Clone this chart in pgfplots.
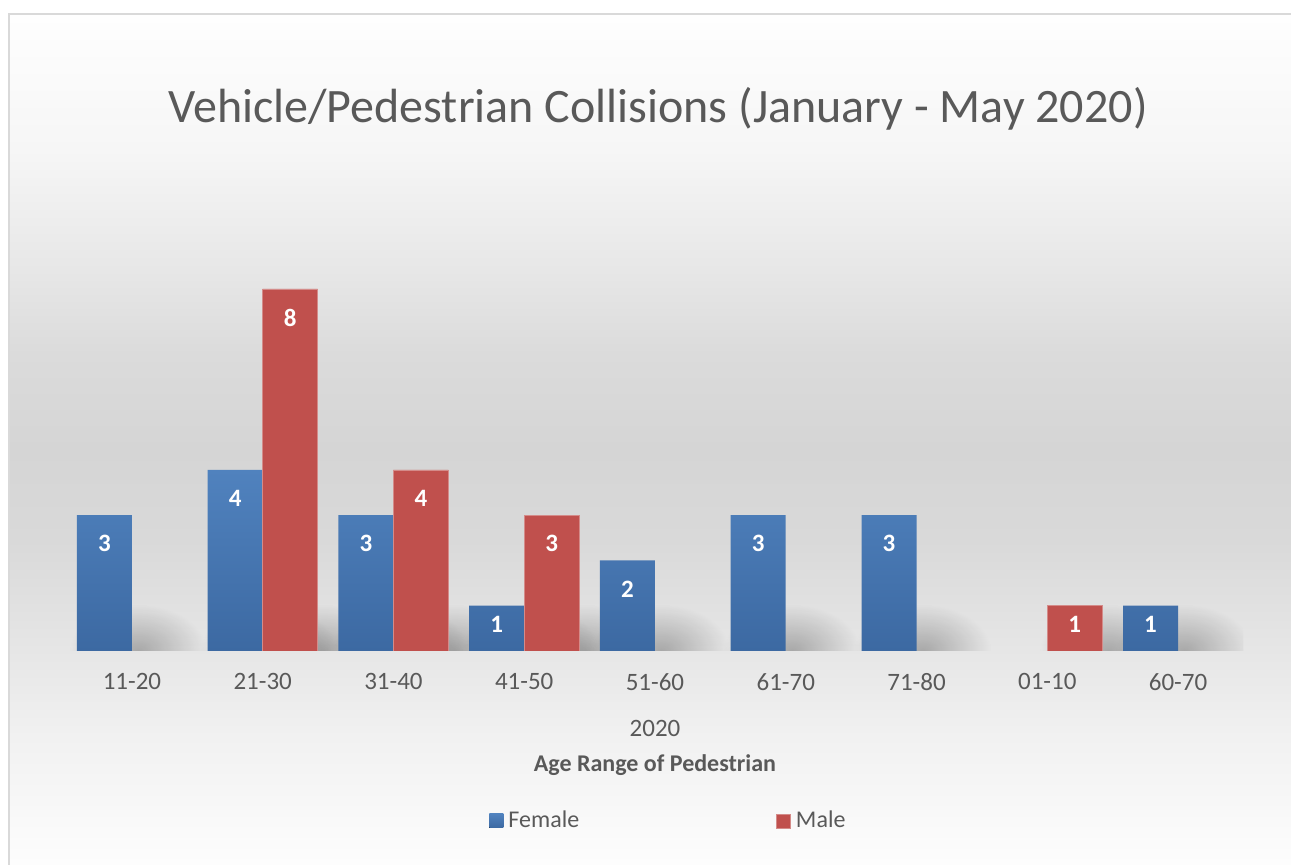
\documentclass[border=0pt]{standalone}
\usepackage{fontspec}
\setmainfont{Carlito}
\usepackage{pgfplots}
\pgfplotsset{compat=1.18}
\usetikzlibrary{fadings}
\definecolor{txt}{HTML}{595959}
\definecolor{fblue}{HTML}{5082BE}
\definecolor{fbluedark}{HTML}{3C69A2}
\definecolor{mred}{HTML}{C0504D}
\definecolor{mredline}{HTML}{D48B89}
\definecolor{framegray}{HTML}{D9D9D9}
\definecolor{bg0}{HTML}{FFFFFF}
\definecolor{bg1}{HTML}{F1F1F1}
\definecolor{bg2}{HTML}{E6E6E6}
\definecolor{bg3}{HTML}{D9D9D9}
\definecolor{bg4}{HTML}{D5D5D5}
\definecolor{bg5}{HTML}{DBDBDB}
\definecolor{bg6}{HTML}{E7E7E7}
\definecolor{bg7}{HTML}{F6F6F6}
\definecolor{bg8}{HTML}{FEFEFE}
\pgfdeclareverticalshading{bgshade}{100bp}{color(0bp)=(bg0); color(25bp)=(bg0); color(33.5bp)=(bg1); color(38.5bp)=(bg2); color(44.8bp)=(bg3); color(50bp)=(bg4); color(55.5bp)=(bg5); color(60.3bp)=(bg6); color(67.2bp)=(bg7); color(75bp)=(bg8); color(100bp)=(bg8)}
\tikzfading[name=blobfade, inner color=transparent!0, outer color=transparent!100]
\pgfdeclareplotmark{blobF}{\fill[black, opacity=0.27, path fading=blobfade] (-31pt,-23pt) rectangle (37pt,23pt);}
\pgfdeclareplotmark{blobM}{\fill[black, opacity=0.27, path fading=blobfade] (-3.5pt,-23pt) rectangle (64.5pt,23pt);}
\pgfplotsset{
  mygeom/.style={
    at={(33.3pt,107pt)}, anchor=south west, scale only axis,
    width=588.4pt, height=226.25pt,
    xmin=-0.5, xmax=8.5, ymin=0, ymax=10,
    axis line style={draw=none}, tick style={draw=none},
    ytick=\empty,
  },
  barlabels/.style={
    nodes near coords,
    visualization depends on=y \as \yval,
    nodes near coords style={font=\bfseries\fontsize{12.5}{15}\selectfont, text=white, anchor=center,
      yshift={(\yval<1.5)*5pt-14.25pt}},
  },
}
\begin{document}
\begin{tikzpicture}[x=1pt,y=1pt]
\useasboundingbox (0,0) rectangle (645.5,432.5);
\shade[shading=bgshade] (4.5,-10) rectangle (660,425.5);
\draw[line width=1pt, color=framegray] (4.5,-10) -- (4.5,425.5) -- (660,425.5);
\node[text=txt, font=\fontsize{24}{28}\selectfont] at (329,378) {Vehicle/Pedestrian Collisions (January - May 2020)};
% shadows (drawn first, clipped to the plot area)
\begin{axis}[mygeom, xtick=\empty, clip marker paths=true]
\addplot[only marks, mark=blobF] coordinates {(0,0) (1,0) (2,0) (3,0) (4,0) (5,0) (6,0) (8,0)};
\addplot[only marks, mark=blobM] coordinates {(1,0) (2,0) (3,0) (7,0)};
\end{axis}
\begin{axis}[
  mygeom,
  ybar=0pt, bar width=27.5pt,
  xtick={0,...,8},
  xticklabels={11-20,21-30,31-40,41-50,51-60,61-70,71-80,01-10,60-70},
  xticklabel style={font=\fontsize{12.5}{15}\selectfont, text=txt, yshift=-3.5pt},
  /pgf/number format/assume math mode=true,
  legend columns=2,
  legend style={at={(0.359,-0.3757)}, anchor=west, draw=none, fill=none, inner sep=0pt,
     font=\fontsize{12}{15}\selectfont, text=txt,
     nodes={inner sep=1.5pt},
     /tikz/every even column/.append style={column sep=97pt}},
  legend image code/.code={\fill[#1] (0pt,-3.5pt) rectangle (7pt,3.5pt); \path (8pt,0pt);},
]
\addplot[draw=none, top color=fblue, bottom color=fbluedark, barlabels]
  coordinates {(0,3) (1,4) (2,3) (3,1) (4,2) (5,3) (6,3) (8,1)};
\addlegendentry{Female}
\addplot[draw=mredline, line width=0.4pt, fill=mred, barlabels]
  coordinates {(1,8) (2,4) (3,3) (7,1)};
\addlegendentry{Male}
\end{axis}
\node[text=txt, font=\fontsize{12.5}{15}\selectfont, anchor=base] at (327.5,64) {2020};
\node[text=txt, font=\bfseries\fontsize{12}{15}\selectfont, anchor=base] at (327.5,46.5) {Age Range of Pedestrian};
\end{tikzpicture}
\end{document}
